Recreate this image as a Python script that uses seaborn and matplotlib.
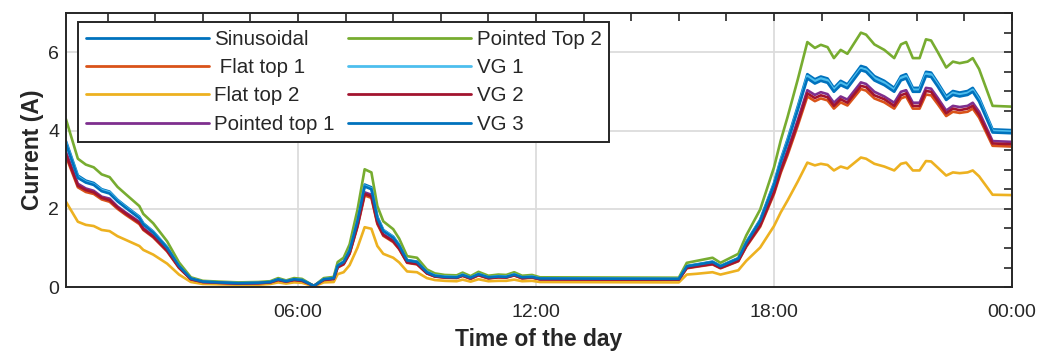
import numpy as np
import pandas as pd
import seaborn as sns
import matplotlib.pyplot as plt
from matplotlib.ticker import MultipleLocator, FixedLocator

# Hora do dia (h)
hours = [0.15, 0.45, 0.65, 0.85, 1.05, 1.25, 1.45, 1.65, 2.00, 2.10,
         2.35, 2.70, 3.00, 3.30, 3.60, 4.00, 4.50, 5.00, 5.30, 5.50,
         5.70, 5.90, 6.10, 6.40, 6.65, 6.90, 7.00, 7.15, 7.30, 7.50,
         7.68, 7.85, 8.00, 8.15, 8.40, 8.55, 8.75, 9.00, 9.25, 9.45,
         9.70, 10.00, 10.15, 10.35, 10.55, 10.80, 11.05, 11.25, 11.45, 11.65,
         11.90, 12.10, 15.60, 15.80, 16.05, 16.45, 16.65, 17.10, 17.30, 17.65,
         18.00, 18.17, 18.34, 18.60, 18.84, 19.03, 19.18, 19.35, 19.51, 19.68,
         19.85, 20.19, 20.32, 20.53, 20.78, 21.03, 21.20, 21.33, 21.50, 21.67,
         21.83, 21.96, 22.13, 22.34, 22.51, 22.68, 22.88, 23.01, 23.17, 23.51,
         24.00]

sinusoidal = [3.73, 2.85, 2.72, 2.66, 2.50, 2.44, 2.23, 2.07, 1.80, 1.63,
              1.42, 1.02, 0.55, 0.22, 0.14, 0.12, 0.10, 0.11, 0.13, 0.20,
              0.15, 0.20, 0.18, 0.03, 0.20, 0.23, 0.56, 0.65, 0.95, 1.72,
              2.62, 2.55, 1.80, 1.46, 1.29, 1.08, 0.69, 0.65, 0.39, 0.30,
              0.27, 0.26, 0.32, 0.24, 0.34, 0.25, 0.28, 0.27, 0.33, 0.25,
              0.27, 0.22, 0.21, 0.54, 0.58, 0.65, 0.54, 0.74, 1.15, 1.72,
              2.66, 3.26, 3.77, 4.62, 5.44, 5.31, 5.38, 5.33, 5.09, 5.27,
              5.18, 5.65, 5.61, 5.39, 5.27, 5.09, 5.39, 5.44, 5.09, 5.09,
              5.50, 5.48, 5.22, 4.88, 5.01, 4.97, 5.01, 5.09, 4.84, 4.03,
              4.01]

flat_top_1 = [3.34, 2.55, 2.43, 2.38, 2.24, 2.18, 2.00, 1.85, 1.61, 1.46,
              1.27, 0.91, 0.49, 0.20, 0.13, 0.11, 0.09, 0.10, 0.12, 0.18,
              0.13, 0.18, 0.16, 0.03, 0.18, 0.21, 0.50, 0.58, 0.85, 1.54,
              2.34, 2.28, 1.61, 1.31, 1.15, 0.97, 0.62, 0.58, 0.35, 0.27,
              0.24, 0.23, 0.29, 0.21, 0.30, 0.22, 0.25, 0.24, 0.30, 0.22,
              0.24, 0.20, 0.19, 0.48, 0.52, 0.58, 0.48, 0.66, 1.03, 1.54,
              2.38, 2.92, 3.37, 4.13, 4.87, 4.75, 4.82, 4.77, 4.56, 4.72,
              4.64, 5.06, 5.02, 4.82, 4.72, 4.56, 4.82, 4.87, 4.56, 4.56,
              4.92, 4.90, 4.67, 4.37, 4.48, 4.45, 4.48, 4.56, 4.33, 3.61,
              3.59]

flat_top_2 = [2.18, 1.67, 1.59, 1.56, 1.46, 1.43, 1.30, 1.21, 1.05, 0.95,
              0.83, 0.60, 0.32, 0.13, 0.08, 0.07, 0.06, 0.06, 0.08, 0.12,
              0.09, 0.12, 0.11, 0.02, 0.12, 0.13, 0.33, 0.38, 0.56, 1.01,
              1.53, 1.49, 1.05, 0.85, 0.75, 0.63, 0.40, 0.38, 0.23, 0.18,
              0.16, 0.15, 0.19, 0.14, 0.20, 0.15, 0.16, 0.16, 0.19, 0.15,
              0.16, 0.13, 0.12, 0.32, 0.34, 0.38, 0.32, 0.43, 0.67, 1.01,
              1.56, 1.91, 2.21, 2.70, 3.18, 3.11, 3.15, 3.12, 2.98, 3.08,
              3.03, 3.31, 3.28, 3.15, 3.08, 2.98, 3.15, 3.18, 2.98, 2.98,
              3.22, 3.21, 3.05, 2.85, 2.93, 2.91, 2.93, 2.98, 2.83, 2.36,
              2.35]

pointed_top_1 = [3.45, 2.64, 2.52, 2.46, 2.31, 2.26, 2.06, 1.91, 1.67, 1.51,
                 1.31, 0.94, 0.51, 0.20, 0.13, 0.11, 0.09, 0.10, 0.12, 0.19,
                 0.14, 0.19, 0.17, 0.03, 0.19, 0.21, 0.52, 0.60, 0.88, 1.59,
                 2.42, 2.36, 1.67, 1.35, 1.19, 1.00, 0.64, 0.60, 0.36, 0.28,
                 0.25, 0.24, 0.30, 0.22, 0.31, 0.23, 0.26, 0.25, 0.31, 0.23,
                 0.25, 0.20, 0.19, 0.50, 0.54, 0.60, 0.50, 0.68, 1.06, 1.59,
                 2.46, 3.02, 3.49, 4.27, 5.03, 4.91, 4.98, 4.93, 4.71, 4.87,
                 4.79, 5.23, 5.19, 4.99, 4.87, 4.71, 4.99, 5.03, 4.71, 4.71,
                 5.09, 5.07, 4.83, 4.51, 4.63, 4.60, 4.63, 4.71, 4.48, 3.73,
                 3.71]

pointed_top_2 = [4.29, 3.28, 3.13, 3.06, 2.88, 2.81, 2.56, 2.38, 2.07, 1.87,
                 1.63, 1.17, 0.63, 0.25, 0.16, 0.14, 0.12, 0.13, 0.15, 0.23,
                 0.17, 0.23, 0.21, 0.03, 0.23, 0.26, 0.64, 0.75, 1.09, 1.98,
                 3.01, 2.93, 2.07, 1.68, 1.48, 1.24, 0.79, 0.75, 0.45, 0.35,
                 0.31, 0.30, 0.37, 0.28, 0.39, 0.29, 0.32, 0.31, 0.38, 0.29,
                 0.31, 0.25, 0.24, 0.62, 0.67, 0.75, 0.62, 0.85, 1.32, 1.98,
                 3.06, 3.75, 4.34, 5.31, 6.26, 6.11, 6.19, 6.13, 5.85, 6.06,
                 5.96, 6.50, 6.45, 6.20, 6.06, 5.85, 6.20, 6.26, 5.85, 5.85,
                 6.33, 6.30, 6.00, 5.61, 5.76, 5.72, 5.76, 5.85, 5.57, 4.63,
                 4.61]

vg_1 = [3.69, 2.82, 2.69, 2.63, 2.48, 2.42, 2.21, 2.05, 1.78, 1.61,
        1.41, 1.01, 0.54, 0.22, 0.14, 0.12, 0.10, 0.11, 0.13, 0.20,
        0.15, 0.20, 0.18, 0.03, 0.20, 0.23, 0.55, 0.64, 0.94, 1.70,
        2.59, 2.52, 1.78, 1.45, 1.28, 1.07, 0.68, 0.64, 0.39, 0.30,
        0.27, 0.26, 0.32, 0.24, 0.34, 0.25, 0.28, 0.27, 0.33, 0.25,
        0.27, 0.22, 0.21, 0.53, 0.57, 0.64, 0.53, 0.73, 1.14, 1.70,
        2.63, 3.23, 3.73, 4.57, 5.39, 5.26, 5.33, 5.28, 5.04, 5.22,
        5.13, 5.59, 5.55, 5.34, 5.22, 5.04, 5.34, 5.39, 5.04, 5.04,
        5.45, 5.43, 5.17, 4.83, 4.96, 4.92, 4.96, 5.04, 4.79, 3.99,
        3.97]

vg_2 = [3.39, 2.59, 2.48, 2.42, 2.28, 2.22, 2.03, 1.88, 1.64, 1.48,
        1.29, 0.93, 0.50, 0.20, 0.13, 0.11, 0.09, 0.10, 0.12, 0.18,
        0.14, 0.18, 0.16, 0.03, 0.18, 0.21, 0.51, 0.59, 0.86, 1.57,
        2.38, 2.32, 1.64, 1.33, 1.17, 0.98, 0.63, 0.59, 0.35, 0.27,
        0.25, 0.24, 0.29, 0.22, 0.31, 0.23, 0.25, 0.25, 0.30, 0.23,
        0.25, 0.20, 0.19, 0.49, 0.53, 0.59, 0.49, 0.67, 1.05, 1.57,
        2.42, 2.97, 3.43, 4.20, 4.95, 4.83, 4.90, 4.85, 4.63, 4.80,
        4.71, 5.14, 5.11, 4.90, 4.80, 4.63, 4.90, 4.95, 4.63, 4.63,
        5.01, 4.99, 4.75, 4.44, 4.56, 4.52, 4.56, 4.63, 4.40, 3.67,
        3.65]

vg_3 = [3.66, 2.79, 2.67, 2.61, 2.45, 2.39, 2.19, 2.03, 1.76, 1.60,
        1.39, 1.00, 0.54, 0.22, 0.14, 0.12, 0.10, 0.11, 0.13, 0.20,
        0.15, 0.20, 0.18, 0.03, 0.20, 0.23, 0.55, 0.64, 0.93, 1.69,
        2.57, 2.50, 1.76, 1.43, 1.26, 1.06, 0.68, 0.64, 0.38, 0.29,
        0.26, 0.25, 0.31, 0.24, 0.33, 0.25, 0.27, 0.26, 0.32, 0.25,
        0.26, 0.22, 0.21, 0.53, 0.57, 0.64, 0.53, 0.73, 1.13, 1.69,
        2.61, 3.19, 3.69, 4.53, 5.33, 5.20, 5.27, 5.22, 4.99, 5.16,
        5.08, 5.54, 5.50, 5.28, 5.16, 4.99, 5.28, 5.33, 4.99, 4.99,
        5.39, 5.37, 5.12, 4.78, 4.91, 4.87, 4.91, 4.99, 4.74, 3.95,
        3.93]

labels = ['Sinusoidal', ' Flat top 1', 'Flat top 2', 'Pointed top 1',
          'Pointed Top 2', 'VG 1', 'VG 2', 'VG 3']
colors = ['#0072BD', '#D95319', '#EDB120', '#7E2F8E',
          '#77AC30', '#4DBEEE', '#A2142F', '#0072BD']
series = [sinusoidal, flat_top_1, flat_top_2, pointed_top_1,
          pointed_top_2, vg_1, vg_2, vg_3]

xtick_pos = [6, 12, 18, 24]
xtick_labels = ['06:00', '12:00', '18:00', '00:00']

# Tabela longa para o seaborn
df = pd.concat([pd.DataFrame({'hora': hours, 'corrente': vals, 'serie': lab})
                for lab, vals in zip(labels, series)], ignore_index=True)

sns.set_style('white')
plt.rcParams['font.family'] = ['Liberation Sans', 'DejaVu Sans']

fig, ax = plt.subplots(figsize=(10.52, 3.54), dpi=100)
fig.subplots_adjust(left=0.0627, right=0.962, top=0.963, bottom=0.189)

for lab, col in zip(labels, colors):
    sns.lineplot(data=df[df['serie'] == lab], x='hora', y='corrente',
                 color=col, linewidth=1.9, label=lab, ax=ax,
                 estimator=None, sort=False)

ax.set_xlim(0.15, 24)
ax.set_ylim(0, 7)
ax.xaxis.set_major_locator(FixedLocator(xtick_pos))
ax.set_xticklabels(xtick_labels)
ax.xaxis.set_minor_locator(MultipleLocator(1.2))
ax.yaxis.set_major_locator(MultipleLocator(2))
ax.yaxis.set_minor_locator(MultipleLocator(0.5))

ax.grid(True, which='major', color='#dcdcdc', linewidth=1.3)
ax.set_axisbelow(True)
for s in ax.spines.values():
    s.set_visible(True)
    s.set_color('#262626')
    s.set_linewidth(1.4)

ax.tick_params(which='both', direction='in', top=True, right=True,
               colors='#262626', labelsize=14, width=1.2)
ax.tick_params(which='both', length=6)
ax.tick_params(axis='x', which='major', pad=12)
ax.tick_params(axis='y', which='major', pad=5)

ax.set_xlabel('Time of the day', fontsize=16.5, fontweight='bold', labelpad=5)
ax.set_ylabel('Current (A)', fontsize=16.5, fontweight='bold', labelpad=3)

leg = ax.legend(ncol=2, loc='upper left', bbox_to_anchor=(0.0127, 0.967),
                borderaxespad=0, fontsize=14.8, handlelength=6.0,
                handletextpad=0.25, columnspacing=0.65, labelspacing=0.45,
                borderpad=0.38, fancybox=False, framealpha=1,
                edgecolor='#262626')
leg.get_frame().set_linewidth(1.4)
for h in leg.get_lines():
    h.set_linewidth(2.0)

plt.savefig('out.png', dpi=100)
plt.close()
